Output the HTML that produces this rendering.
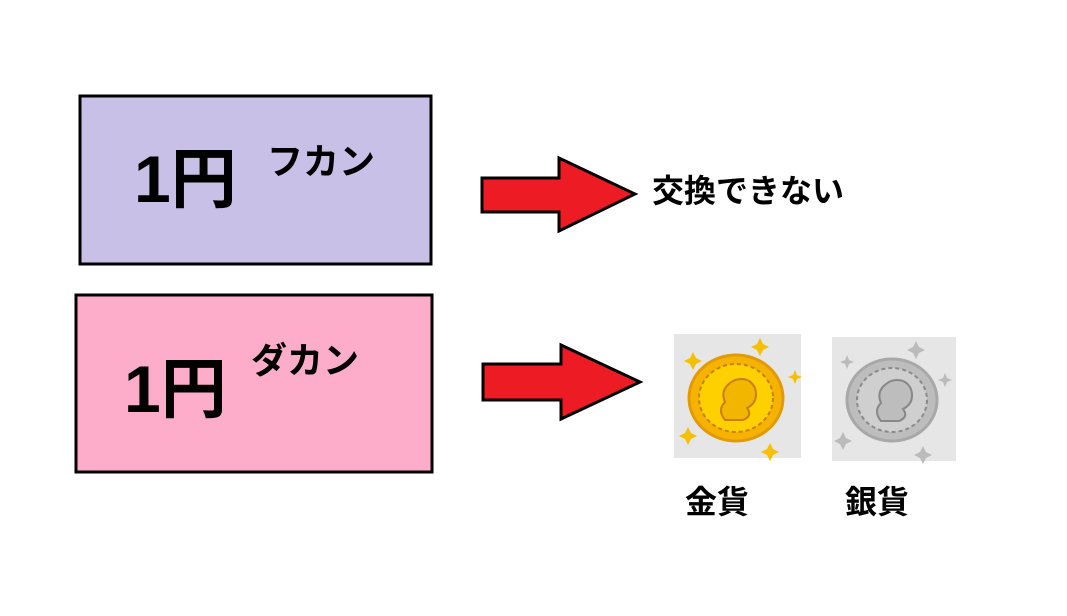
<!DOCTYPE html>
<html><head><meta charset="utf-8"><style>
body{margin:0;width:1067px;height:616px;background:#fff;position:relative;overflow:hidden;font-family:"Liberation Sans","Noto Sans CJK JP",sans-serif;font-weight:bold;color:#000}
.t{position:absolute;white-space:nowrap;line-height:1}
</style></head><body>
<svg width="1067" height="616" style="position:absolute;left:0;top:0">
<rect x="80" y="96" width="351" height="168" fill="#c8c0e6" stroke="#000" stroke-width="3"/>
<rect x="76" y="295" width="356" height="177" fill="#fdadc9" stroke="#000" stroke-width="3"/>
<polygon points="482,178 559,178 559,158 635,194 559,231 559,212 482,212" fill="#ed1c24" stroke="#000" stroke-width="3" stroke-linejoin="miter"/>
<polygon points="483,364 561,364 561,345 640,382 561,419 561,400 483,400" fill="#ed1c24" stroke="#000" stroke-width="3"/>
<rect x="674" y="334" width="127" height="124" fill="#e6e6e6"/>
<rect x="832" y="337" width="124" height="124" fill="#e6e6e6"/>
<g>
<ellipse cx="736" cy="398" rx="47" ry="43" fill="#f5b300" stroke="#e29a00" stroke-width="3"/>
<ellipse cx="736" cy="398" rx="37" ry="34" fill="#ffd000" stroke="#c9800a" stroke-width="2" stroke-dasharray="4 3"/>
<path d="M725 420 q-8-10 0-18 q-6-14 10-22 q14-4 20 8 q4 14-8 20 q6 8-4 12z" fill="#f2b600" stroke="#c9800a" stroke-width="2"/>
<path d="M690 358 l3-6 3 6 6 3-6 3-3 6-3-6-6-3z M757 344 l3-6 3 6 6 3-6 3-3 6-3-6-6-3z M793 375 l2-5 2 5 5 2-5 2-2 5-2-5-5-2z M685 433 l3-6 3 6 6 3-6 3-3 6-3-6-6-3z M767 449 l3-6 3 6 6 3-6 3-3 6-3-6-6-3z" fill="#f5c000"/>
</g>
<g>
<ellipse cx="892" cy="400" rx="45" ry="41" fill="#bdbdbd" stroke="#a8a8a8" stroke-width="3"/>
<ellipse cx="892" cy="400" rx="35" ry="32" fill="#cfcfcf" stroke="#8a8a8a" stroke-width="2" stroke-dasharray="4 3"/>
<path d="M881 421 q-8-10 0-18 q-6-14 10-22 q14-4 20 8 q4 14-8 20 q6 8-4 12z" fill="#bdbdbd" stroke="#888" stroke-width="2"/>
<path d="M845 360 l2-5 2 5 5 2-5 2-2 5-2-5-5-2z M913 347 l3-6 3 6 6 3-6 3-3 6-3-6-6-3z M943 378 l2-5 2 5 5 2-5 2-2 5-2-5-5-2z M840 438 l3-6 3 6 6 3-6 3-3 6-3-6-6-3z M920 452 l3-6 3 6 6 3-6 3-3 6-3-6-6-3z" fill="#bbb"/>
</g>
</svg>
<div class="t" style="left:134px;top:146px;font-size:66px">1円</div>
<div class="t" style="left:267px;top:144px;font-size:36px">フカン</div>
<div class="t" style="left:124px;top:356px;font-size:66px">1円</div>
<div class="t" style="left:251px;top:343px;font-size:36px">ダカン</div>
<div class="t" style="left:652px;top:175px;font-size:32px">交換できない</div>
<div class="t" style="left:685px;top:486px;font-size:32px">金貨</div>
<div class="t" style="left:845px;top:486px;font-size:32px">銀貨</div>
</body></html>
